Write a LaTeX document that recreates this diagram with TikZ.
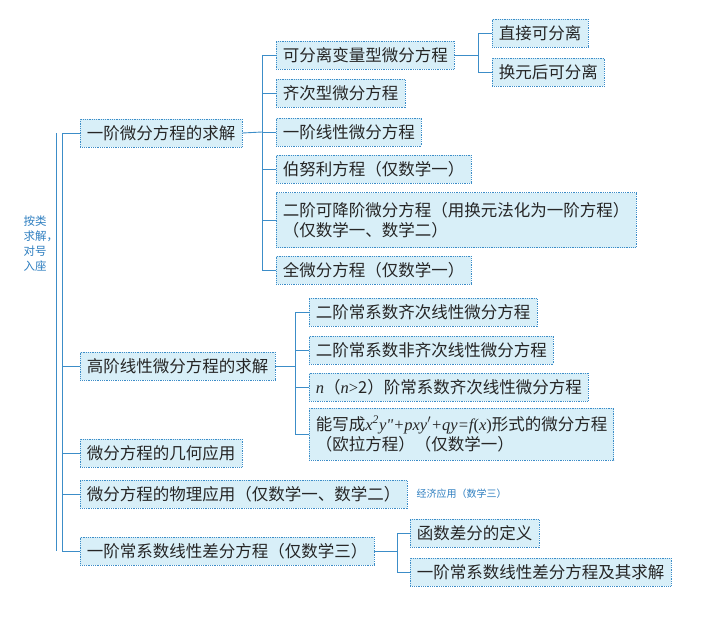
\documentclass[tikz,border=0pt]{standalone}
\usepackage{fontspec}
\setmainfont{Noto Sans CJK SC}
\newfontfamily\lat{Liberation Serif}
\definecolor{bfill}{HTML}{D8EFF8}
\definecolor{bline}{HTML}{3C8DC8}
\definecolor{btext}{HTML}{2F7FC0}
\begin{document}
\begin{tikzpicture}[x=1pt,y=-1pt,
  bx/.style={draw=bline,densely dotted,line width=0.8pt,fill=bfill,anchor=west,inner xsep=6.5pt,minimum height=28pt,font=\fontsize{16.5}{20}\selectfont,text=black!85},
  ln/.style={draw=bline,line width=0.9pt}]
\useasboundingbox (0,0) rectangle (709,625);
% level 1
\node[bx] (a) at (80,133) {一阶微分方程的求解};
\node[bx] (b) at (80,366) {高阶线性微分方程的求解};
\node[bx] (c) at (80,453) {微分方程的几何应用};
\node[bx] (d) at (80,494) {微分方程的物理应用（仅数学一、数学二）};
\node[bx] (e) at (80,551) {一阶常系数线性差分方程（仅数学三）};
\node[anchor=west,text=btext,font=\fontsize{10}{12}\selectfont] (econ) at (413,494) {经济应用（数学三）};
\node[text=btext,font=\fontsize{11.5}{15}\selectfont,align=left,anchor=west] (side) at (20,244) {按类\\求解，\\对号\\入座};
% trunk
\coordinate (t1) at (60,133); \coordinate (t2) at (60,551);
\draw[ln] ([xshift=-4pt]t1) -- ([xshift=-4pt]t2);
\draw[ln] ([xshift=2pt]t1) -- ([xshift=2pt]t2);
\foreach \n in {a,b,c,d,e} \draw[ln] (\n.west) -- +(-18,0);
% level 2 under a
\node[bx] (a1) at (276,55) {可分离变量型微分方程};
\node[bx] (a2) at (276,93) {齐次型微分方程};
\node[bx] (a3) at (276,132) {一阶线性微分方程};
\node[bx] (a4) at (276,169) {伯努利方程（仅数学一）};
\node[bx,align=left,minimum height=55pt] (a5) at (276,220) {二阶可降阶微分方程（用换元法化为一阶方程）\\（仅数学一、数学二）};
\node[bx] (a6) at (276,270) {全微分方程（仅数学一）};
\draw[ln] (a1.west) -- +(-14,0) |- (a6.west);
\draw[ln] (a.east) -- (a3.west -| 262,0) ;
\foreach \n in {a2,a3,a4,a5} \draw[ln] (\n.west) -- +(-14,0);
% level 3
\node[bx] (s1) at (492,33) {直接可分离};
\node[bx] (s2) at (492,72) {换元后可分离};
\draw[ln] (s1.west) -- +(-14,0) |- (s2.west);
\draw[ln] (a1.east) -- (a1.east -| 478,0);
% under b
\node[bx] (b1) at (309,312) {二阶常系数齐次线性微分方程};
\node[bx] (b2) at (309,350) {二阶常系数非齐次线性微分方程};
\node[bx] (b3) at (309,387) {{\lat\itshape n}（{\lat\itshape n}{\lat >}2）阶常系数齐次线性微分方程};
\node[bx,align=left,minimum height=52pt] (b4) at (309,434) {能写成{\lat\itshape x\textsuperscript{2}y\textquotedbl+pxy$'$+qy=f}{\lat(\itshape x\upshape)}形式的微分方程\\（欧拉方程）（仅数学一）};
\draw[ln] (b1.west) -- +(-14,0) |- (b4.west);
\foreach \n in {b2,b3} \draw[ln] (\n.west) -- +(-14,0);
\draw[ln] (b.east) -- (b.east -| 295,0);
% under e
\node[bx] (e1) at (410,533) {函数差分的定义};
\node[bx] (e2) at (410,572) {一阶常系数线性差分方程及其求解};
\draw[ln] (e1.west) -- +(-13,0) |- (e2.west);
\draw[ln] (e.east) -- (e.east -| 397,0);
\end{tikzpicture}
\end{document}
